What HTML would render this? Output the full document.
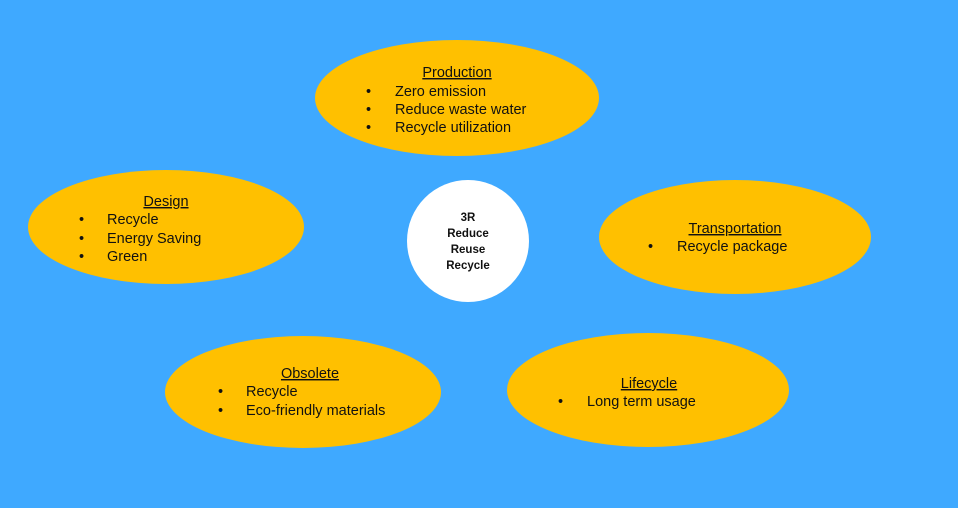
<!DOCTYPE html>
<html><head><style>
html,body{margin:0;padding:0;background:#3fa9ff;}
svg{display:block;}
text{font-family:"Liberation Sans",sans-serif;font-size:14.5px;fill:#111;}
.t{text-anchor:middle;text-decoration:underline;}
.c{text-anchor:middle;font-weight:bold;font-size:11.5px;}
</style></head><body>
<svg width="958" height="508" viewBox="0 0 958 508" xmlns="http://www.w3.org/2000/svg">
<rect width="958" height="508" fill="#3fa9ff"/>
<g fill="#ffc000">
<ellipse cx="457" cy="98" rx="142" ry="58"/>
<ellipse cx="166" cy="227" rx="138" ry="57"/>
<ellipse cx="735" cy="237" rx="136" ry="57"/>
<ellipse cx="303" cy="392" rx="138" ry="56"/>
<ellipse cx="648" cy="390" rx="141" ry="57"/>
</g>
<circle cx="468" cy="241" r="61" fill="#fff"/>
<text class="c" x="468" y="221">3R</text>
<text class="c" x="468" y="237">Reduce</text>
<text class="c" x="468" y="253">Reuse</text>
<text class="c" x="468" y="269">Recycle</text>

<text class="t" x="457" y="77">Production</text>
<text x="366" y="96">•</text><text x="395" y="96">Zero emission</text>
<text x="366" y="114">•</text><text x="395" y="114">Reduce waste water</text>
<text x="366" y="132">•</text><text x="395" y="132">Recycle utilization</text>

<text class="t" x="166" y="206">Design</text>
<text x="79" y="224">•</text><text x="107" y="224">Recycle</text>
<text x="79" y="243">•</text><text x="107" y="243">Energy Saving</text>
<text x="79" y="261">•</text><text x="107" y="261">Green</text>

<text class="t" x="735" y="233">Transportation</text>
<text x="648" y="251">•</text><text x="677" y="251">Recycle package</text>

<text class="t" x="310" y="378">Obsolete</text>
<text x="218" y="396">•</text><text x="246" y="396">Recycle</text>
<text x="218" y="415">•</text><text x="246" y="415">Eco-friendly materials</text>

<text class="t" x="649" y="388">Lifecycle</text>
<text x="558" y="406">•</text><text x="587" y="406">Long term usage</text>
</svg>
</body></html>
